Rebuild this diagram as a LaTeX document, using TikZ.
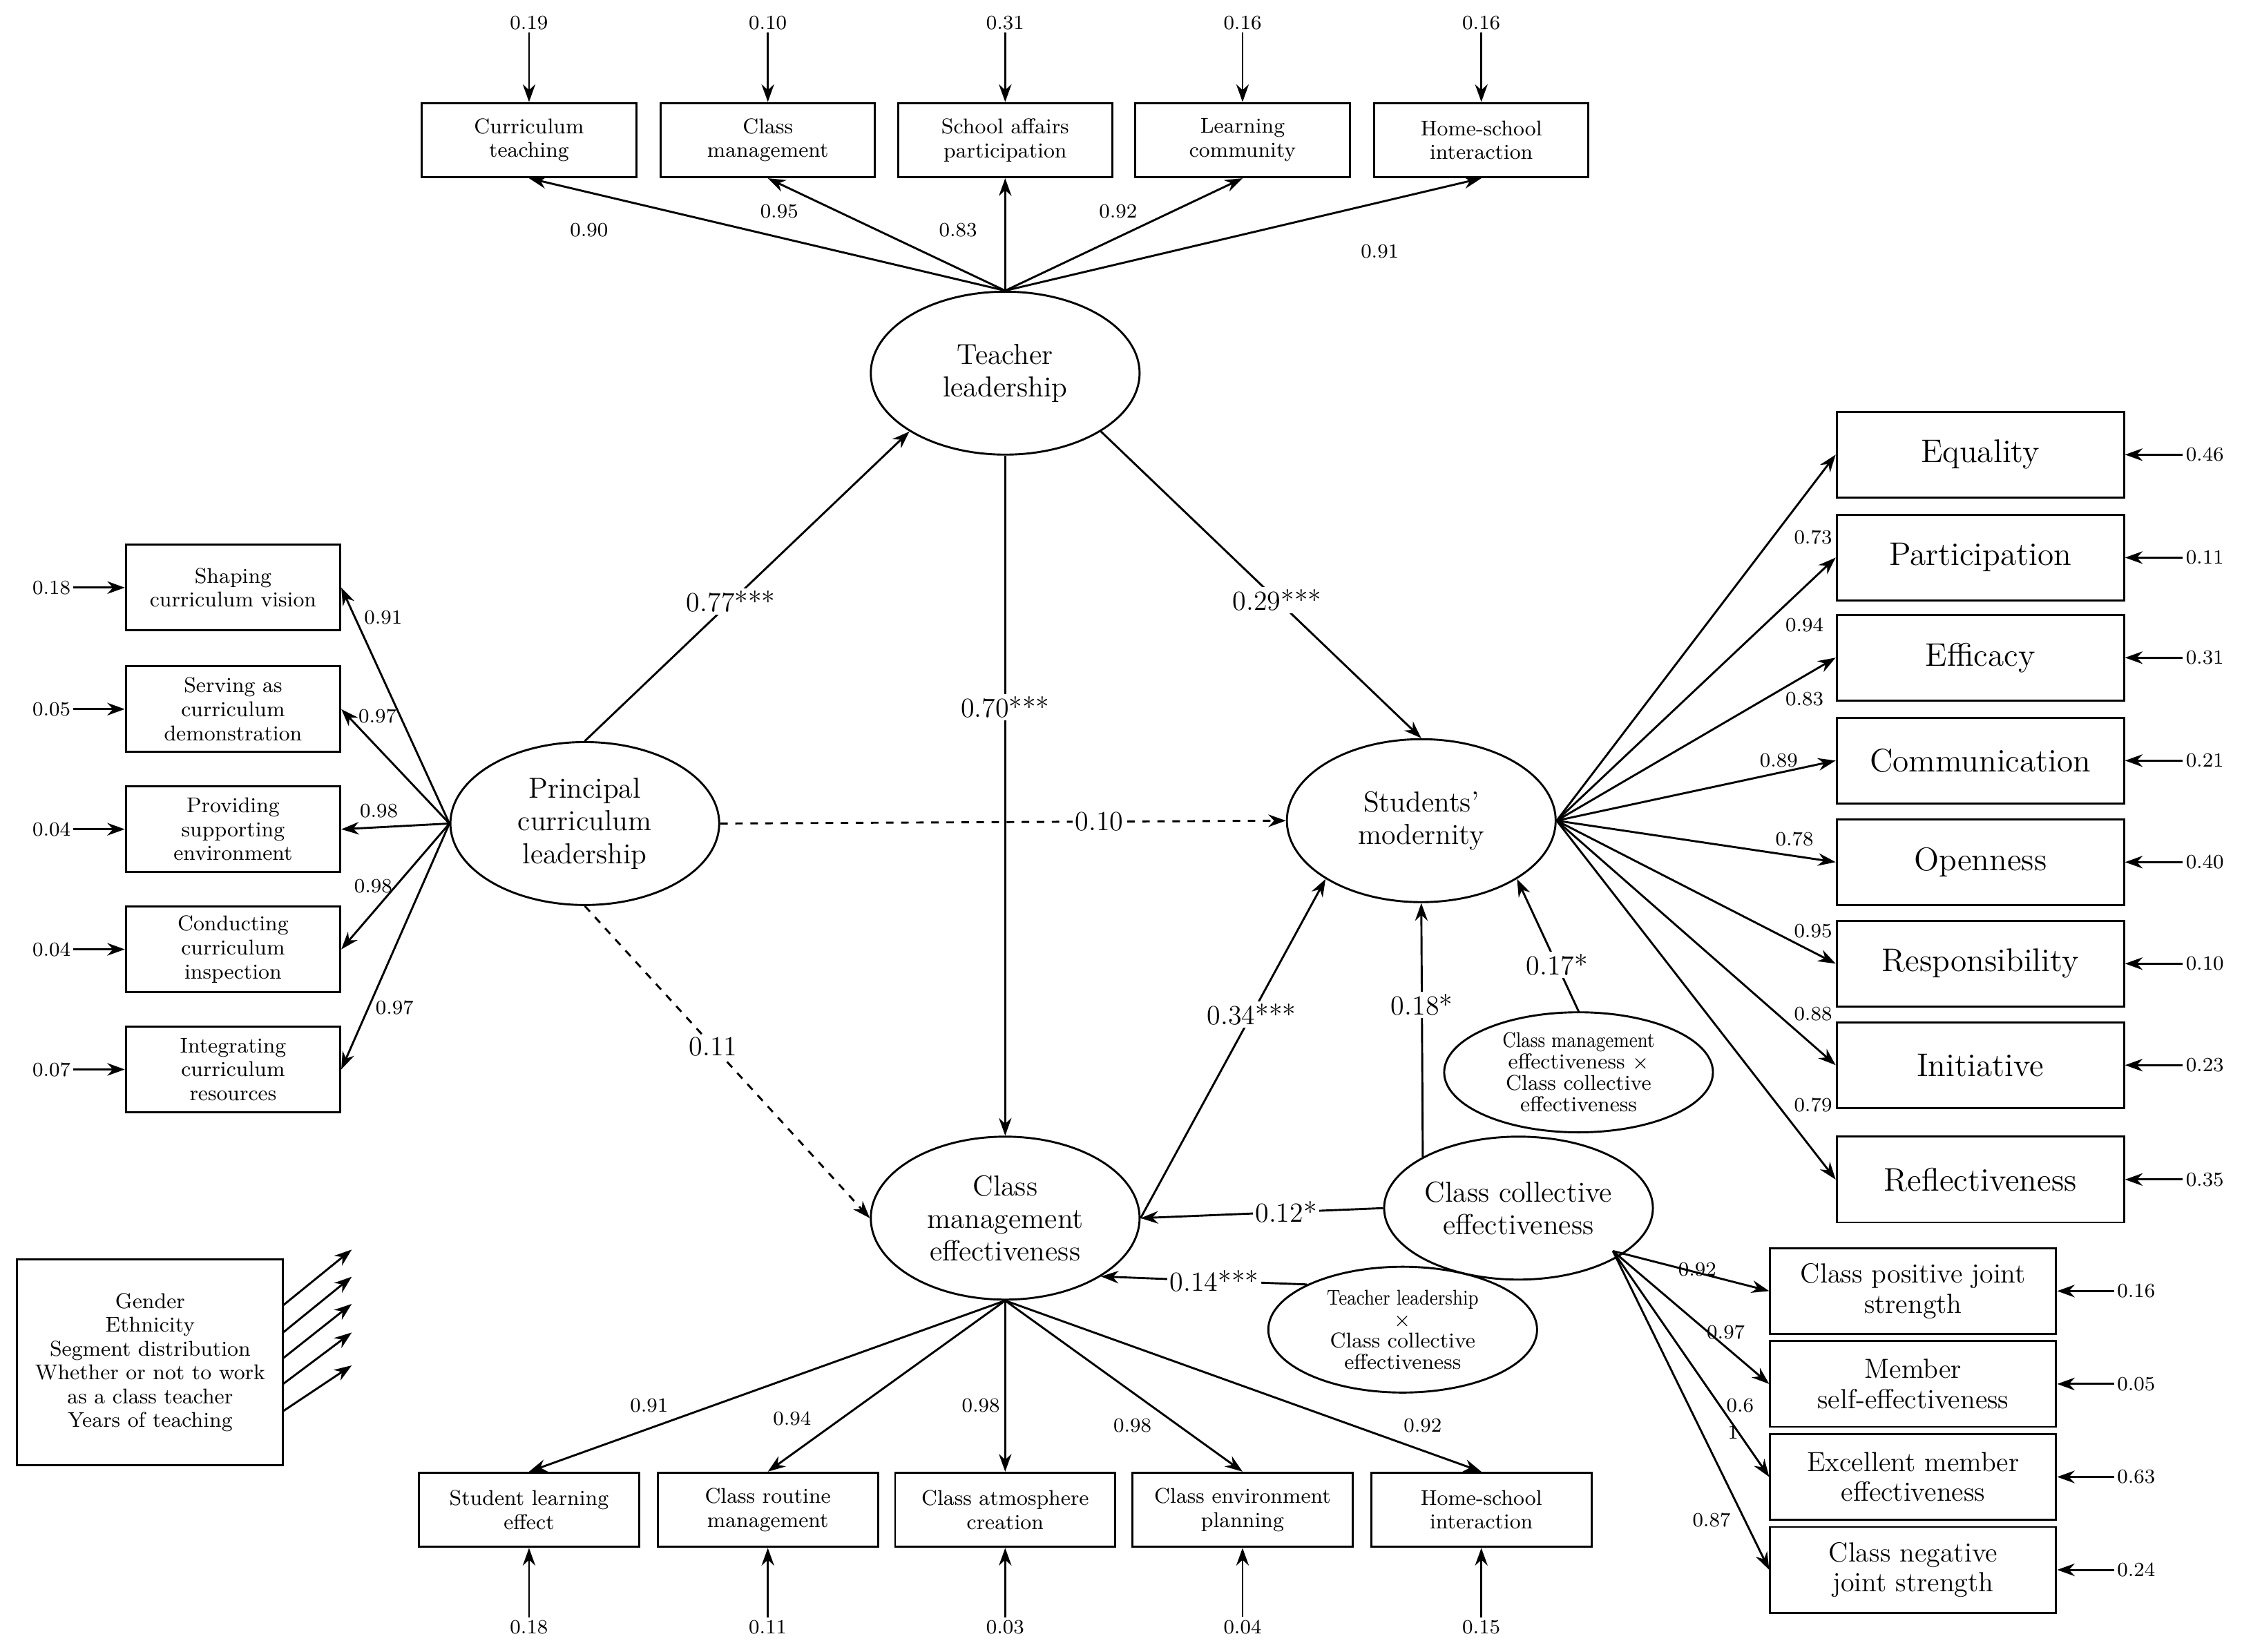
\documentclass[tikz,border=0pt]{standalone}
\usepackage{tikz}
\usetikzlibrary{shapes.geometric,arrows.meta}
\begin{document}
\begin{tikzpicture}[x=0.02cm,y=-0.02cm,
 box/.style={draw,thick,minimum width=3cm,minimum height=1.04cm,align=center,font=\fontsize{8.5}{9.5}\selectfont,inner sep=1pt},
 lbox/.style={draw,thick,minimum width=3cm,minimum height=1.2cm,align=center,font=\fontsize{8.5}{9.5}\selectfont,inner sep=1pt},
 rbox/.style={draw,thick,minimum width=4.02cm,minimum height=1.2cm,align=center,font=\fontsize{13}{14}\selectfont},
 brbox/.style={draw,thick,minimum width=4cm,minimum height=1.2cm,align=center,font=\fontsize{11}{12}\selectfont,inner sep=1pt},
 lat/.style={draw,thick,ellipse,minimum width=3.76cm,minimum height=2.28cm,align=center,font=\fontsize{11.5}{13}\selectfont,inner sep=0pt},
 num/.style={font=\fontsize{8}{9}\selectfont,inner sep=1pt},
 pl/.style={font=\fontsize{11}{12}\selectfont,fill=white,inner sep=1pt},
 arr/.style={-{Stealth[length=7pt,width=5pt]},thick},
 dsh/.style={arr,dashed}]
\useasboundingbox (0,0) rectangle (1568,1155);
% latent
\node[lat] (TL) at (703,261) {Teacher\\leadership};
\node[lat] (PC) at (409,576) {Principal\\curriculum\\leadership};
\node[lat] (SM) at (994,574) {Students'\\modernity};
\node[lat] (CM) at (703,852) {Class\\management\\effectiveness};
\node[lat,minimum height=2cm] (CC) at (1062,845) {Class collective\\effectiveness};
\node[lat,minimum height=1.68cm,font=\fontsize{8.5}{8.5}\selectfont] (I1) at (1104,750) {\scalebox{0.85}[1]{Class management}\\effectiveness $\times$\\Class collective\\effectiveness};
\node[lat,minimum height=1.76cm,font=\fontsize{8.5}{8.5}\selectfont] (I2) at (981,930) {\scalebox{0.85}[1]{Teacher leadership}\\$\times$\\Class collective\\effectiveness};
% top boxes
\foreach \x/\t/\e/\n in {370/{Curriculum\\teaching}/0.19/t1,537/{Class\\management}/0.10/t2,703/{School affairs\\participation}/0.31/t3,869/{Learning\\community}/0.16/t4,1036/{Home-school\\interaction}/0.16/t5}{
 \node[box] (\n) at (\x,98) {\t};
 \node[num] (e\n) at (\x,16) {\e};
 \draw[arr] (e\n.south) -- (\n.north);
 \draw[arr] (TL.north) -- (\n.south);}
\node[num] at (412,161) {0.90};\node[num] at (545,148) {0.95};\node[num] at (670,161) {0.83};\node[num] at (782,148) {0.92};\node[num] at (965,176) {0.91};
% bottom boxes
\foreach \x/\t/\e/\n in {370/{Student learning\\effect}/0.18/b1,537/{Class routine\\management}/0.11/b2,703/{Class atmosphere\\creation}/0.03/b3,869/{Class environment\\planning}/0.04/b4,1036/{Home-school\\interaction}/0.15/b5}{
 \node[box,minimum width=3.08cm] (\n) at (\x,1056) {\t};
 \node[num] (e\n) at (\x,1138) {\e};
 \draw[arr] (e\n.north) -- (\n.south);
 \draw[arr] (CM.south) -- (\n.north);}
\node[num] at (454,983) {0.91};\node[num] at (554,992) {0.94};\node[num] at (686,983) {0.98};\node[num] at (792,997) {0.98};\node[num] at (995,997) {0.92};
% left boxes
\foreach \y/\t/\e/\n in {411/{Shaping\\curriculum vision}/0.18/l1,496/{Serving as\\curriculum\\demonstration}/0.05/l2,580/{Providing\\supporting\\environment}/0.04/l3,664/{Conducting\\curriculum\\inspection}/0.04/l4,748/{Integrating\\curriculum\\resources}/0.07/l5}{
 \node[lbox] (\n) at (163,\y) {\t};
 \node[num] (e\n) at (36,\y) {\e};
 \draw[arr] (e\n.east) -- (\n.west);
 \draw[arr] (PC.west) -- (\n.east);}
\node[num] at (268,432) {0.91};\node[num] at (264,501) {0.97};\node[num] at (265,567) {0.98};\node[num] at (261,620) {0.98};\node[num] at (276,705) {0.97};
% right boxes
\foreach \y/\t/\e/\n in {318/Equality/0.46/r1,390/Participation/0.11/r2,460/Efficacy/0.31/r3,532/Communication/0.21/r4,603/Openness/0.40/r5,674/Responsibility/0.10/r6,745/Initiative/0.23/r7,825/Reflectiveness/0.35/r8}{
 \node[rbox] (\n) at (1385,\y) {\t};
 \node[num] (e\n) at (1542,\y) {\e};
 \draw[arr] (e\n.west) -- (\n.east);
 \draw[arr] (SM.east) -- (\n.west);}
\node[num] at (1268,376) {0.73};\node[num] at (1262,437) {0.94};\node[num] at (1262,489) {0.83};\node[num] at (1244,532) {0.89};\node[num] at (1255,587) {0.78};\node[num] at (1268,651) {0.95};\node[num] at (1268,709) {0.88};\node[num] at (1268,773) {0.79};
% bottom-right boxes
\coordinate (ccr) at (1128,875);
\foreach \y/\t/\e/\n in {903/{Class positive joint\\strength}/0.16/c1,968/{Member\\self-effectiveness}/0.05/c2,1033/{Excellent member\\effectiveness}/0.63/c3,1098/{Class negative\\joint strength}/0.24/c4}{
 \node[brbox] (\n) at (1338,\y) {\t};
 \node[num] (e\n) at (1494,\y) {\e};
 \draw[arr] (e\n.west) -- (\n.east);
 \draw[arr] (ccr) -- (\n.west);}
\node[num] at (1187,888) {0.92};\node[num] at (1207,932) {0.97};\node[num] at (1217,983) {0.6};\node[num] at (1212,1002) {1};\node[num] at (1197,1063) {0.87};
% structural
\draw[arr] (PC.north) -- (TL.south west) node[pl,pos=0.45] {0.77***};
\draw[arr] (TL.south east) -- (SM.north) node[pl,pos=0.55] {0.29***};
\draw[arr] (TL.south) -- (CM.north) node[pl,pos=0.37] {0.70***};
\draw[dsh] (PC.east) -- (SM.west) node[pl,pos=0.67] {0.10};
\draw[dsh] (PC.south) -- (CM.west) node[pl,pos=0.45] {0.11};
\draw[arr] (CM.east) -- (SM.south west) node[pl,pos=0.6] {0.34***};
\draw[arr] (CC.north west) -- (SM.south) node[pl,pos=0.6] {0.18*};
\draw[arr] (I1.north) -- (SM.south east) node[pl,pos=0.35] {0.17*};
\draw[arr] (CC.west) -- (CM.east) node[pl,pos=0.4] {0.12*};
\draw[arr] (I2.north west) -- (CM.south east) node[pl,pos=0.45] {0.14***};
% controls
\node[draw,thick,minimum width=3.72cm,minimum height=2.88cm,align=center,font=\fontsize{8.5}{9.5}\selectfont] (ctl) at (105,953) {Gender\\Ethnicity\\Segment distribution\\Whether or not to work\\as a class teacher\\Years of teaching};
\foreach \i/\a/\b in {1/913/874,2/932/893,3/950/912,4/968/932,5/987/955}{
 \coordinate (cs\i) at (198,\a); \coordinate (ce\i) at (246,\b);
 \draw[arr] (cs\i) -- (ce\i);}
\end{tikzpicture}
\end{document}
